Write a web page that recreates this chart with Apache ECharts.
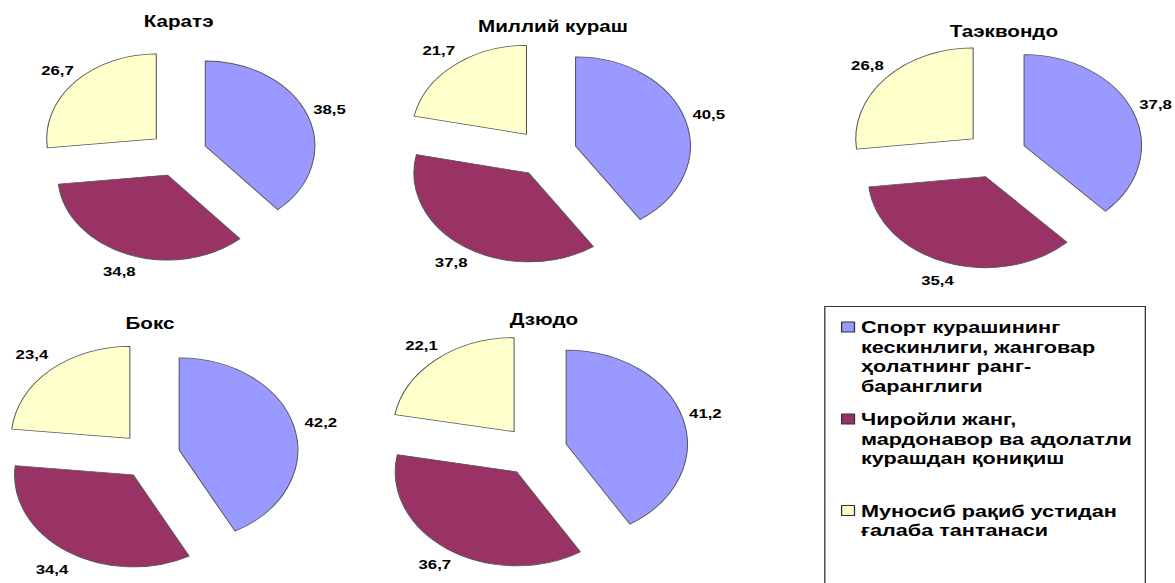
<!DOCTYPE html>
<html>
<head>
<meta charset="utf-8">
<script src="https://cdn.jsdelivr.net/npm/echarts/dist/echarts.min.js"></script>
<style>
html, body { margin: 0; padding: 0; background: #ffffff; overflow: hidden; width: 1175px; height: 583px; }
#c { width: 911px; height: 583px; transform: scaleX(1.2898); transform-origin: 0 0; }
</style>
</head>
<body>
<div id="c"></div>
<script>
// ---- data ----
const categories = [
  'Спорт курашининг кескинлиги, жанговар ҳолатнинг ранг-баранглиги',
  'Чиройли жанг, мардонавор ва адолатли курашдан қониқиш',
  'Муносиб рақиб устидан ғалаба тантанаси'
];
const legendLines = [
  'Спорт курашининг\nкескинлиги, жанговар\nҳолатнинг ранг-\nбаранглиги',
  'Чиройли жанг,\nмардонавор ва адолатли\nкурашдан қониқиш',
  'Муносиб рақиб устидан\nғалаба тантанаси'
];
const sports = ['Каратэ', 'Миллий кураш', 'Таэквондо', 'Бокс', 'Дзюдо'];
const karate = [38.5, 34.8, 26.7];
const milliyKurash = [40.5, 37.8, 21.7];
const taekwondo = [37.8, 35.4, 26.8];
const boks = [42.2, 34.4, 23.4];
const dzyudo = [41.2, 36.7, 22.1];
const sportValues = [karate, milliyKurash, taekwondo, boks, dzyudo];

// ---- styling / layout (pre-stretch coordinates) ----
const colors = ['#9999FF', '#993366', '#FFFFCC'];
const FONT = '"Liberation Sans", Arial, sans-serif';
const pieCenters = [[138, 154], [423.3, 153], [772.1, 154.5], [116.3, 455.6], [414.7, 451]];
const pieRadii = [85, 89, 91, 92, 94];
const pieExplode = [22.6, 24, 23.6, 23.3, 25.2];
const labelDist = [125.6, 132, 133.5, 136.5, 137.4];
const titlePos = [[138.5, 21], [428.7, 26.7], [778.3, 31.7], [116.3, 323], [421.7, 319.3]];
const LH = 19.7;
const legendFirstLine = [326.5, 418.5, 510];

const fmt = v => v.toFixed(1).replace('.', ',');

const series = [];
sportValues.forEach((vals, i) => {
  series.push({
    type: 'pie',
    name: sports[i],
    center: pieCenters[i],
    radius: pieRadii[i],
    startAngle: 90,
    clockwise: true,
    selectedMode: 'multiple',
    selectedOffset: pieExplode[i],
    animation: false,
    label: { show: false },
    labelLine: { show: false },
    emphasis: { disabled: true },
    itemStyle: { borderColor: '#555', borderWidth: 0.8 },
    select: { itemStyle: { borderColor: '#555', borderWidth: 0.8 } },
    data: vals.map((v, j) => ({ name: categories[j], value: v, selected: true, itemStyle: { color: colors[j] } }))
  });
});
sportValues.forEach((vals, i) => {
  series.push({
    type: 'pie',
    name: sports[i] + ' labels',
    center: pieCenters[i],
    radius: [0, 2 * (labelDist[i] - 3)],
    startAngle: 90,
    clockwise: true,
    silent: true,
    animation: false,
    avoidLabelOverlap: false,
    itemStyle: { color: 'transparent', borderWidth: 0 },
    label: {
      show: true, position: 'inside',
      formatter: p => fmt(p.value),
      fontSize: 13, fontWeight: 'bold', color: '#000', fontFamily: FONT
    },
    labelLine: { show: false },
    emphasis: { disabled: true },
    data: vals.map((v, j) => ({ name: categories[j], value: v }))
  });
});

const titles = sports.map((s, i) => ({
  text: s,
  left: titlePos[i][0],
  top: titlePos[i][1],
  textAlign: 'center',
  textVerticalAlign: 'middle',
  padding: 0,
  textStyle: { fontSize: 16, fontWeight: 'bold', color: '#000', fontFamily: FONT, lineHeight: 17 }
}));

const legends = categories.map((c, i) => {
  const n = legendLines[i].split('\n').length;
  const h = n * LH;
  return {
    orient: 'vertical',
    left: 652,
    top: legendFirstLine[i] - LH / 2,
    padding: 0,
    itemGap: 0,
    itemWidth: 10,
    itemHeight: h,
    selectedMode: false,
    icon: 'path://M0,' + (LH / 2 - 5) + 'H10V' + (LH / 2 + 5) + 'H0Z M0,0 M10,' + h,
    itemStyle: { borderColor: '#333', borderWidth: 1 },
    data: [c],
    formatter: name => legendLines[categories.indexOf(name)],
    textStyle: { fontSize: 16.8, fontWeight: 'bold', color: '#000', fontFamily: FONT, lineHeight: LH }
  };
});

const chart = echarts.init(document.getElementById('c'), null, { renderer: 'svg' });
chart.setOption({
  backgroundColor: '#ffffff',
  animation: false,
  title: titles,
  legend: legends,
  tooltip: { show: false },
  graphic: [{
    type: 'rect',
    shape: { x: 639.5, y: 306.5, width: 248.5, height: 300 },
    style: { fill: 'none', stroke: '#333', lineWidth: 1 },
    silent: true
  }],
  series: series
});
</script>
</body>
</html>
